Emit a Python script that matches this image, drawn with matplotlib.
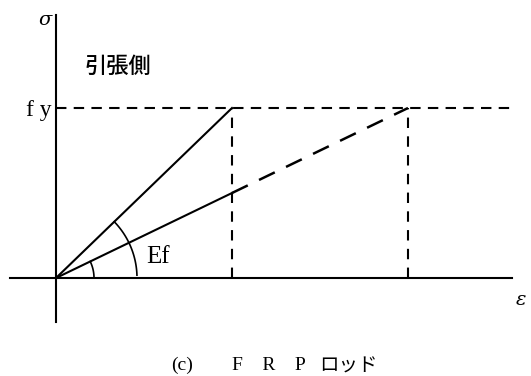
import numpy as np
import matplotlib.pyplot as plt

plt.rcParams['font.family'] = ['Noto Sans CJK JP', 'DejaVu Sans']

# strain / stress (fy = 1)
fy = 1.0
eps_y1 = 1.0    # steep line reaches fy
eps_y2 = 2.0    # FRP line reaches fy
eps_break = 1.0 # where solid part of FRP line ends
eps_max = 2.61

# pixels per unit (for round arcs)
px_x, px_y = 176.0, 170.0

fig = plt.figure(figsize=(5.31, 3.76), dpi=100)
ax = fig.add_axes([0, 0, 1, 1])
ax.set_xlim(-56 / px_x, (531 - 56) / px_x)
ax.set_ylim((278 - 376) / px_y, 278 / px_y)
ax.axis('off')

k = dict(color='black', lw=1.5)
# axes
ax.plot([0, 0], [-0.26, 1.55], **k)
ax.plot([-0.26, 2.59], [0, 0], **k)

# fy dashed
ax.plot([0, eps_max], [fy, fy], ls=(0, (5, 3.5)), **k)

# steep line
ax.plot([0, eps_y1], [0, fy], **k)
ax.plot([eps_y1, eps_y1], [0, fy], ls=(0, (5, 4)), **k)

# FRP line
slope = fy / eps_y2
ax.plot([0, eps_break], [0, slope * eps_break], **k)
ax.plot([eps_break, eps_y2], [slope * eps_break, fy], ls=(0, (7, 5)), lw=1.8, color='black')
ax.plot([eps_y2, eps_y2], [0, fy], ls=(0, (5, 4)), **k)

# arcs
def arc(r, a0, a1):
    t = np.linspace(np.radians(a0), np.radians(a1), 60)
    ax.plot(r * np.cos(t) / px_x, r * np.sin(t) / px_y, color='black', lw=1.2)

ang_lo = np.degrees(np.arctan2(slope * px_y, px_x))
ang_hi = np.degrees(np.arctan2(fy / eps_y1 * px_y, px_x))
arc(38, 0, ang_lo)
arc(81, 2, ang_hi)

ax.text(-0.06, 1.52, 'σ', fontsize=14, style='italic', family='DejaVu Serif', ha='center', va='center')
ax.text(0.35, 1.245, '引張側', fontsize=16, fontweight='medium', ha='center', va='center')
ax.text(-0.10, 0.985, 'f y', fontsize=17, family='Liberation Serif', ha='center', va='center')
ax.text(0.58, 0.125, 'Ef', fontsize=18, family='Liberation Serif', ha='center', va='center')
ax.text(2.64, -0.13, 'ε', fontsize=14, style='italic', family='DejaVu Serif', ha='center', va='center')
ax.text(0.716, -0.515, '(c)', fontsize=14, family='Liberation Serif', ha='center', va='center')
ax.text(1.21, -0.515, 'F\u3000R\u3000P', fontsize=14,
        family=['Liberation Serif', 'Noto Sans CJK JP'], ha='center', va='center')
ax.text(1.66, -0.515, 'ロッド', fontsize=14, ha='center', va='center')

fig.savefig('out.png', dpi=100)
